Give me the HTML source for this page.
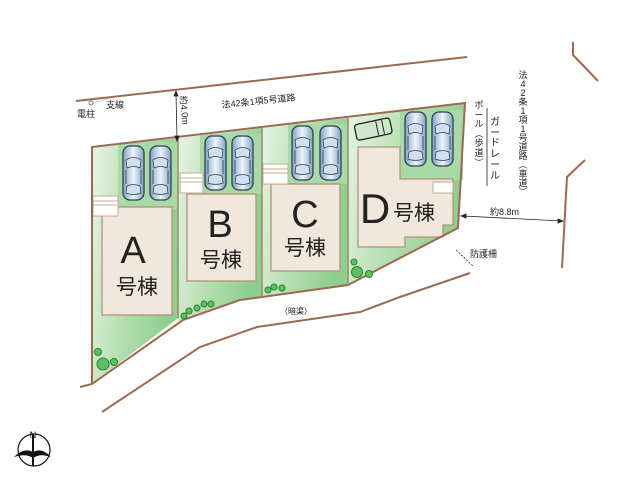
<!DOCTYPE html>
<html><head><meta charset="utf-8"><style>
html,body{margin:0;padding:0;background:#fff;}
#w{position:relative;width:640px;height:480px;overflow:hidden;font-family:"Liberation Sans","Noto Sans CJK JP",sans-serif;}
</style></head><body><div id="w">
<svg width="640" height="480" viewBox="0 0 640 480" xmlns="http://www.w3.org/2000/svg" style="position:absolute;left:0;top:0">
<defs>
<linearGradient id="g" x1="0" y1="0" x2="1" y2="0.3">
<stop offset="0" stop-color="#e8f4e4"/><stop offset="0.5" stop-color="#b8e0b4"/><stop offset="1" stop-color="#8fcf8e"/></linearGradient>
<linearGradient id="cg" x1="0" y1="0" x2="1" y2="0">
<stop offset="0" stop-color="#7fa6c8"/><stop offset="0.5" stop-color="#eef4fb"/><stop offset="1" stop-color="#7fa6c8"/></linearGradient>
<g id="car">
<rect x="0" y="0" width="21" height="54" rx="7" fill="url(#cg)" stroke="#33404a" stroke-width="1.3"/>
<path d="M3 14 Q10.5 9 18 14 L17 22 Q10.5 19 4 22Z" fill="#cfe0f0" stroke="#33404a" stroke-width="0.8"/>
<path d="M4 40 Q10.5 37 17 40 L18 47 Q10.5 50 3 47Z" fill="#cfe0f0" stroke="#33404a" stroke-width="0.8"/>
<line x1="3" y1="24" x2="3" y2="38" stroke="#33404a" stroke-width="0.8"/>
<line x1="18" y1="24" x2="18" y2="38" stroke="#33404a" stroke-width="0.8"/>
</g>
</defs>
<polygon points="92,147 178,138 178,318 92,384" fill="url(#g)"/>
<polygon points="178,138 262,128 262,297 240,300 183,320 178,322" fill="url(#g)"/>
<polygon points="262,128 348,118 348,285 262,297" fill="url(#g)"/>
<polygon points="348,118 465,103 458,228 348,285" fill="url(#g)"/>
<rect x="118" y="143" width="60" height="66" fill="#a9d9a6"/>
<rect x="200" y="134" width="62" height="60" fill="#a9d9a6"/>
<rect x="288" y="124" width="60" height="60" fill="#a9d9a6"/>
<rect x="400" y="110" width="63" height="70" fill="#a9d9a6"/>
<rect x="102" y="207" width="70" height="108" fill="#f0e8dc" stroke="#b5927a" stroke-width="1.3"/>
<rect x="93" y="196" width="25" height="20" fill="#fff" stroke="#c9a994" stroke-width="1"/>
<line x1="93" y1="201" x2="118" y2="201" stroke="#c9a994"/><line x1="93" y1="205" x2="118" y2="205" stroke="#c9a994"/>
<rect x="187" y="194" width="69" height="87" fill="#f0e8dc" stroke="#b5927a" stroke-width="1.3"/>
<rect x="180" y="173" width="23" height="20" fill="#fff" stroke="#c9a994" stroke-width="1"/>
<line x1="180" y1="178" x2="203" y2="178" stroke="#c9a994"/><line x1="180" y1="182" x2="203" y2="182" stroke="#c9a994"/>
<rect x="271" y="184" width="69" height="87" fill="#f0e8dc" stroke="#b5927a" stroke-width="1.3"/>
<rect x="263" y="164" width="25" height="20" fill="#fff" stroke="#c9a994" stroke-width="1"/>
<line x1="263" y1="169" x2="288" y2="169" stroke="#c9a994"/><line x1="263" y1="173" x2="288" y2="173" stroke="#c9a994"/>
<polygon points="358,147 400,147 400,179 453,179 453,225 443,225 443,237 405,237 405,247 358,247" fill="#f0e8dc" stroke="#b5927a" stroke-width="1.3"/>
<rect x="433" y="182" width="20" height="11" fill="#fff" stroke="#c9a994" stroke-width="1"/>
<use href="#car" x="123" y="146"/><use href="#car" x="150" y="146"/>
<use href="#car" x="205" y="136"/><use href="#car" x="232" y="136"/>
<use href="#car" x="292" y="126"/><use href="#car" x="320" y="126"/>
<use href="#car" x="405" y="112"/><use href="#car" x="432" y="112"/>
<g transform="translate(354,125) rotate(-12)">
<rect x="0" y="0" width="36" height="16" rx="3" fill="#cfe8cc" stroke="#222" stroke-width="1.3"/>
<line x1="22" y1="1" x2="22" y2="15" stroke="#222"/><line x1="28" y1="1" x2="28" y2="15" stroke="#222"/></g>
<g fill="none" stroke="#9c6a52" stroke-width="2">
<polyline points="80,387 92,384 183,320 240,300 262,297 348,285 458,228 465,103 92,147 92,384"/>
<line x1="178" y1="138" x2="178" y2="318" stroke="#9c8a6a" stroke-width="1.5"/>
<line x1="262" y1="128" x2="262" y2="297" stroke="#9c8a6a" stroke-width="1.5"/>
<line x1="348" y1="118" x2="348" y2="285" stroke="#9c8a6a" stroke-width="1.5"/>
<line x1="76" y1="101" x2="467" y2="57"/>
<polyline points="102,412 200,347 257,327 360,312 400,297 470,273"/>
<polyline points="573,42 573,55 598,81"/>
<polyline points="585,160 567,177 562,268"/>
</g>
<g fill="#5ec160" stroke="#2f7f3a" stroke-width="1">
<circle cx="98" cy="352" r="3.5"/><circle cx="103" cy="364" r="6"/><circle cx="114" cy="362" r="3.5"/>
<circle cx="184" cy="316" r="3"/><circle cx="189" cy="311" r="3"/><circle cx="197" cy="308" r="3"/><circle cx="204" cy="304" r="3"/><circle cx="211" cy="304" r="3"/>
<circle cx="268" cy="290" r="3"/><circle cx="274" cy="287" r="3"/><circle cx="282" cy="288" r="3"/>
<circle cx="354" cy="262" r="3"/><circle cx="357" cy="272" r="5.5"/><circle cx="369" cy="274" r="3.5"/>
</g>
<g stroke="#222" stroke-width="0.8" fill="#222">
<line x1="176" y1="93" x2="177" y2="139"/>
<polygon points="176,91 174,96 178,96"/><polygon points="177,141 175,136 179,136"/>
<line x1="463" y1="216" x2="562" y2="221"/>
<polygon points="461,216 466,214 466,218"/><polygon points="563,221 558,219 558,223"/>
<line x1="487" y1="108" x2="487" y2="186"/>
<line x1="456" y1="250" x2="473" y2="266" stroke-dasharray="2,1.5"/>
<line x1="91" y1="104" x2="110" y2="98" stroke="#888" stroke-dasharray="1,1"/>
</g>
<circle cx="91" cy="103" r="2" fill="#fff" stroke="#555" stroke-width="0.8"/>
<g font-family="Liberation Sans,Noto Sans CJK JP,sans-serif" fill="#222">
<text x="77" y="117" font-size="9">電柱</text>
<text x="106" y="108" font-size="9">支線</text>
<text x="222" y="108" font-size="9" transform="rotate(-6 222 108)">法42条1項5号道路</text>
<text x="180" y="96" font-size="9" transform="rotate(85 180 96)">約4.0m</text>
<text x="490" y="215" font-size="9">約8.8m</text>
<text x="470" y="257" font-size="9">防護柵</text>
<text x="280" y="314" font-size="8">（暗渠）</text>
<text x="133" y="263" font-size="38" text-anchor="middle">A</text>
<text x="137" y="294" font-size="21" text-anchor="middle">号棟</text>
<text x="220" y="237" font-size="38" text-anchor="middle">B</text>
<text x="221" y="267" font-size="21" text-anchor="middle">号棟</text>
<text x="305" y="227" font-size="38" text-anchor="middle">C</text>
<text x="305" y="255" font-size="21" text-anchor="middle">号棟</text>
<text x="375" y="223" font-size="42" text-anchor="middle">D</text>
<text x="414" y="220" font-size="21" text-anchor="middle">号棟</text>
</g>
<g font-family="Liberation Sans,Noto Sans CJK JP,sans-serif" fill="#222" text-anchor="middle" font-size="9">
<text x="523" y="78">法</text><text x="523" y="87">4</text><text x="523" y="96">2</text><text x="523" y="105">条</text><text x="523" y="114">1</text><text x="523" y="123">項</text><text x="523" y="132">1</text><text x="523" y="141">号</text><text x="523" y="150">道</text><text x="523" y="159">路</text><text x="523" y="168">︵</text><text x="523" y="177">車</text><text x="523" y="186">道</text><text x="523" y="195">︶</text>
<text x="479" y="108">ポ</text><text x="479" y="118">ー</text><text x="479" y="127">ル</text><text x="479" y="137">︵</text><text x="479" y="146">歩</text><text x="479" y="156">道</text><text x="479" y="166">︶</text>
</g>
<g font-family="Liberation Sans,Noto Sans CJK JP,sans-serif" fill="#222" text-anchor="middle" font-size="10">
<text x="495" y="125">ガ</text><text x="495" y="136">ー</text><text x="495" y="146">ド</text><text x="495" y="157">レ</text><text x="495" y="168">ー</text><text x="495" y="179">ル</text>
</g>
<circle cx="34" cy="450" r="16" fill="none" stroke="#111" stroke-width="1.2"/>
<line x1="33" y1="434" x2="33" y2="466" stroke="#111" stroke-width="2"/>
<path d="M14 457 Q24 447 33 452 Q42 447 51 457 Q40 453 33 458 Q26 453 14 457Z" fill="#111"/>
<text x="33" y="438" font-size="9" text-anchor="middle" font-family="Liberation Sans,sans-serif" fill="#111">N</text>
</svg>
</div></body></html>
